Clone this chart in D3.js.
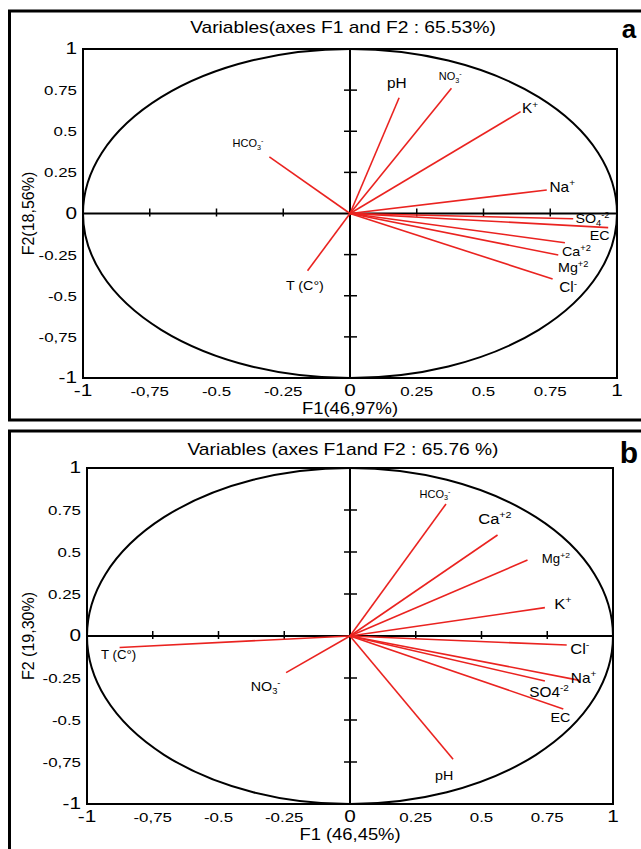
<!DOCTYPE html>
<html>
<head>
<meta charset="utf-8">
<script src="https://d3js.org/d3.v7.min.js"></script>
<style>
  body { margin: 0; background: #fff; }
  text { font-family: "Liberation Sans", Arial, sans-serif; }
</style>
</head>
<body>
<svg width="641" height="849"></svg>
<script>
// ---- data ----
// panel a
var varsA   = ["pH", "NO3", "K", "HCO3", "Na", "SO4", "EC", "Ca", "Mg", "Cl", "T"];
var namesA  = ["pH", "NO_{3}^{-}", "K^{+}", "HCO_{3}^{-}", "Na^{+}", "SO_{4}^{-2}", "EC", "Ca^{+2}", "Mg^{+2}", "Cl^{-}", "T (C°)"];
var f1A     = [0.184, 0.380, 0.639, -0.302, 0.737, 0.836, 0.967, 0.805, 0.780, 0.759, -0.159];
var f2A     = [0.704, 0.761, 0.619, 0.344, 0.143, -0.032, -0.086, -0.178, -0.252, -0.398, -0.348];
// label anchors, in F1/F2 units
var lxA     = [0.175, 0.375, 0.674, -0.382, 0.795, 0.908, 0.935, 0.848, 0.836, 0.817, -0.169];
var lyA     = [0.790, 0.830, 0.640, 0.425, 0.163, -0.030, -0.135, -0.232, -0.330, -0.450, -0.435];

// panel b
var varsB   = ["HCO3", "Ca", "Mg", "K", "Cl", "Na", "SO4", "EC", "pH", "NO3", "T"];
var namesB  = ["HCO_{3}^{-}", "Ca^{+2}", "Mg^{+2}", "K^{+}", "Cl^{-}", "Na^{+}", "SO4^{-2}", "EC", "pH", "NO_{3}^{-}", "T (C°)"];
var f1B     = [0.365, 0.561, 0.675, 0.741, 0.824, 0.873, 0.741, 0.811, 0.392, -0.243, -0.876];
var f2B     = [0.786, 0.601, 0.452, 0.169, -0.054, -0.264, -0.268, -0.434, -0.734, -0.218, -0.068];
var lxB     = [0.323, 0.551, 0.783, 0.809, 0.874, 0.888, 0.757, 0.800, 0.358, -0.321, -0.880];
var lyB     = [0.845, 0.700, 0.458, 0.190, -0.077, -0.248, -0.334, -0.484, -0.828, -0.300, -0.113];

var tickValues  = [-1, -0.75, -0.5, -0.25, 0, 0.25, 0.5, 0.75, 1];
var xTickLabels = ["-1", "-0,75", "-0.5", "-0.25", "0", "0.25", "0.5", "0.75", "1"];
var yTickLabels = ["-1", "-0,75", "-0.5", "-0.25", "0", "0.25", "0.5", "0.75", "1"];

var titles  = ["Variables(axes F1 and F2 : 65.53%)", "Variables (axes F1and F2 : 65.76 %)"];
var xTitles = ["F1(46,97%)", "F1 (46,45%)"];
var yTitles = ["F2(18,56%)", "F2 (19,30%)"];

// ---- styles ----
var red = "#ea2320";
var sizeA = {pH: 14, NO3: 10, K: 14, HCO3: 10, Na: 14, SO4: 13, EC: 13, Ca: 13, Mg: 13, Cl: 14, T: 13};
var sizeB = {HCO3: 10, Ca: 15, Mg: 12, K: 15, Cl: 15, Na: 14, SO4: 14, EC: 13, pH: 13, NO3: 13, T: 12};

var svg = d3.select("svg");

// outer frames
svg.append("rect").attr("x", 9.5).attr("y", 11).attr("width", 640).attr("height", 409)
   .attr("fill", "none").attr("stroke", "#000").attr("stroke-width", 3);
svg.append("rect").attr("x", 9.5).attr("y", 431).attr("width", 640).attr("height", 430)
   .attr("fill", "none").attr("stroke", "#000").attr("stroke-width", 3);

// the source picture is a little stretched sideways
function at(x, y, sx) { return "translate(" + x + "," + y + ") scale(" + sx + ",1)"; }

// text with sub/superscripts written as _{..} and ^{..}
function richText(sel, str, size) {
    var parts = str.match(/_\{[^}]*\}|\^\{[^}]*\}|[^_^]+/g);
    var shift = 0;
    parts.forEach(function(p) {
        var target = 0, txt = p, fs = size;
        if (p[0] === "_") { target = 0.25 * size; txt = p.slice(2, -1); fs = size * 0.65; }
        else if (p[0] === "^") { target = -0.4 * size; txt = p.slice(2, -1); fs = size * 0.65; }
        sel.append("tspan").attr("dy", target - shift).attr("font-size", fs).text(txt);
        shift = target;
    });
}

function drawPanel(p) {
    var g = svg.append("g");
    var x = d3.scaleLinear().domain([-1, 1]).range([p.left, p.right]);
    var y = d3.scaleLinear().domain([-1, 1]).range([p.bottom, p.top]);

    // title + panel letter
    g.append("text").attr("transform", at(343, p.titleY, 1.2)).attr("text-anchor", "middle")
     .attr("font-size", 16).text(p.title);
    g.append("text").attr("x", 629).attr("y", p.letterY).attr("text-anchor", "middle")
     .attr("font-size", p.letterSize).attr("font-weight", "bold").text(p.letter);

    // box
    g.append("rect").attr("x", x(-1)).attr("y", y(1))
     .attr("width", x(1) - x(-1)).attr("height", y(-1) - y(1))
     .attr("fill", "none").attr("stroke", "#000").attr("stroke-width", 2);

    // correlation circle
    g.append("ellipse").attr("cx", x(0)).attr("cy", y(0))
     .attr("rx", x(1) - x(0)).attr("ry", y(0) - y(1))
     .attr("fill", "none").attr("stroke", "#000").attr("stroke-width", 2);

    // axes through origin
    g.append("line").attr("x1", x(-1)).attr("x2", x(1)).attr("y1", y(0)).attr("y2", y(0))
     .attr("stroke", "#000").attr("stroke-width", 2);
    g.append("line").attr("x1", x(0)).attr("x2", x(0)).attr("y1", y(1)).attr("y2", y(-1))
     .attr("stroke", "#000").attr("stroke-width", 2);

    var inner = tickValues.filter(function(v) { return Math.abs(v) > 0 && Math.abs(v) < 1; });
    g.selectAll(".xt").data(inner).enter().append("line")
     .attr("x1", function(d) { return x(d); }).attr("x2", function(d) { return x(d); })
     .attr("y1", y(0) - 5).attr("y2", y(0) + 3)
     .attr("stroke", "#000").attr("stroke-width", 1.5);
    g.selectAll(".yt").data(inner).enter().append("line")
     .attr("x1", x(0) - 6).attr("x2", x(0) + 7)
     .attr("y1", function(d) { return y(d); }).attr("y2", function(d) { return y(d); })
     .attr("stroke", "#000").attr("stroke-width", 1.5);

    // tick labels
    function fs(lbl) { return (lbl === "1" || lbl === "-1" || lbl === "0") ? 16 : 13; }
    g.selectAll(".yl").data(tickValues).enter().append("text")
     .attr("transform", function(d) { return at(x(-1) - 6, y(d) + 5, 1.3); })
     .attr("text-anchor", "end")
     .attr("font-size", function(d, i) { return fs(yTickLabels[i]); })
     .text(function(d, i) { return yTickLabels[i]; });
    g.selectAll(".xl").data(tickValues).enter().append("text")
     .attr("transform", function(d) { return at(x(d), y(-1) + 18, 1.3); })
     .attr("text-anchor", "middle")
     .attr("font-size", function(d, i) { return fs(xTickLabels[i]); })
     .text(function(d, i) { return xTickLabels[i]; });

    // axis titles
    g.append("text").attr("transform", at(x(0), y(-1) + 36, 1.15)).attr("text-anchor", "middle")
     .attr("font-size", 16).text(p.xTitle);
    g.append("text").attr("transform", "translate(34," + y(0) + ") rotate(-90)")
     .attr("text-anchor", "middle").attr("font-size", 16).text(p.yTitle);

    // loading vectors
    g.selectAll(".vec").data(p.vars).enter().append("line")
     .attr("x1", x(0)).attr("y1", y(0))
     .attr("x2", function(d, i) { return x(p.f1[i]); })
     .attr("y2", function(d, i) { return y(p.f2[i]); })
     .attr("stroke", red).attr("stroke-width", 1.6);

    g.selectAll(".lab").data(p.vars).enter().append("text")
     .attr("transform", function(d, i) {
         return at(x(p.lx[i]), y(p.ly[i]) + p.sizes[d] * 0.35, 1.1);
     })
     .attr("text-anchor", "middle")
     .attr("font-size", function(d) { return p.sizes[d]; })
     .each(function(d, i) { richText(d3.select(this), p.names[i], p.sizes[d]); });
}

drawPanel({
    left: 83, right: 617, top: 49, bottom: 378,
    title: titles[0], titleY: 33, letter: "a", letterY: 38, letterSize: 26,
    xTitle: xTitles[0], yTitle: yTitles[0],
    vars: varsA, names: namesA, f1: f1A, f2: f2A, lx: lxA, ly: lyA, sizes: sizeA
});
drawPanel({
    left: 87, right: 613, top: 468, bottom: 804,
    title: titles[1], titleY: 455, letter: "b", letterY: 463, letterSize: 30,
    xTitle: xTitles[1], yTitle: yTitles[1],
    vars: varsB, names: namesB, f1: f1B, f2: f2B, lx: lxB, ly: lyB, sizes: sizeB
});
</script>
</body>
</html>
